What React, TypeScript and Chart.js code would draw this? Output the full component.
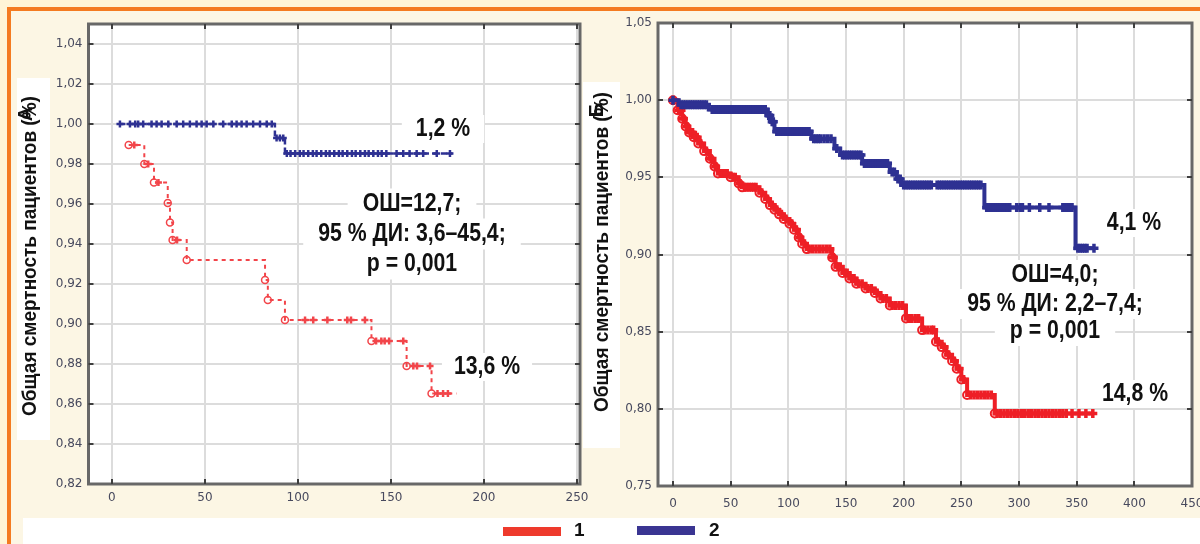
import React, { useEffect, useRef } from "react";
import { Chart, registerables } from "chart.js";

Chart.register(...registerables);

type Pt = [number, number];

// ---------------- DATA ----------------
const Y_TITLE = "Общая смертность пациентов (%)";
const LEFT_PANEL_LETTER = "А";
const RIGHT_PANEL_LETTER = "Б";
const LEGEND_LABELS = ["1", "2"];

const LEFT_X_TICKS = [0, 50, 100, 150, 200, 250];
const LEFT_Y_TICKS = [0.82, 0.84, 0.86, 0.88, 0.9, 0.92, 0.94, 0.96, 0.98, 1.0, 1.02, 1.04];
const RIGHT_X_TICKS = [0, 50, 100, 150, 200, 250, 300, 350, 400, 450];
const RIGHT_Y_TICKS = [0.75, 0.8, 0.85, 0.9, 0.95, 1.0, 1.05];

const LEFT_G1_LABEL = "13,6 %";
const LEFT_G2_LABEL = "1,2 %";
const LEFT_STATS = ["ОШ=12,7;", "95 % ДИ: 3,6–45,4;", "p = 0,001"];
const RIGHT_G1_LABEL = "14,8 %";
const RIGHT_G2_LABEL = "4,1 %";
const RIGHT_STATS = ["ОШ=4,0;", "95 % ДИ: 2,2–7,4;", "p = 0,001"];

// Panel A, group 1 (red): step points (time, survival)
const LEFT_G1_STEPS: Pt[] = [
  [9, 0.9895], [17.4, 0.98], [22.6, 0.9707], [30, 0.9605], [31.2, 0.9507], [32.6, 0.942],
  [40.2, 0.932], [82.3, 0.922], [83.8, 0.912], [93, 0.902], [139.5, 0.8915], [158.4, 0.879],
  [171.8, 0.8653], [185.3, 0.8653],
];
const LEFT_G1_CENSORED: Pt[] = [
  [12, 0.9895], [19.5, 0.98], [25, 0.9707], [35, 0.942], [103.8, 0.902], [108.2, 0.902],
  [115.8, 0.902], [126.5, 0.902], [128.5, 0.902], [136, 0.902], [142, 0.8915], [144.8, 0.8915],
  [146.6, 0.8915], [149, 0.8915], [156.6, 0.8915], [162, 0.879], [164, 0.879], [171, 0.879],
  [175, 0.8653], [178, 0.8653], [180.6, 0.8653],
];
// Panel A, group 2 (blue)
const LEFT_G2_STEPS: Pt[] = [[4, 1.0], [87.6, 0.993], [93, 0.9853], [183, 0.9853]];
const LEFT_G2_CENSORED: Pt[] = [
  [4.3, 1], [9.7, 1], [12.5, 1], [14.1, 1], [16.8, 1], [21.3, 1], [24, 1], [26.7, 1], [30.3, 1],
  [34.8, 1], [38.3, 1], [41.9, 1], [45.5, 1], [48.2, 1], [50.9, 1], [54.5, 1], [59.8, 1], [64.4, 1],
  [67, 1], [69.7, 1], [72.4, 1], [75.9, 1], [79.6, 1], [83.2, 1], [85.9, 1],
  [88.5, 0.993], [90.3, 0.993], [92.1, 0.993],
  [94, 0.9853], [96, 0.9853], [98.5, 0.9853], [101, 0.9853], [103, 0.9853], [105.5, 0.9853],
  [108, 0.9853], [110, 0.9853], [112.5, 0.9853], [115, 0.9853], [117, 0.9853], [119.5, 0.9853],
  [122, 0.9853], [124, 0.9853], [126.5, 0.9853], [129, 0.9853], [131, 0.9853], [133.5, 0.9853],
  [136, 0.9853], [138, 0.9853], [140.5, 0.9853], [143, 0.9853], [145, 0.9853], [147.5, 0.9853],
  [153, 0.9853], [156.6, 0.9853], [160, 0.9853], [163.8, 0.9853], [167.3, 0.9853], [174.6, 0.9853],
  [181.7, 0.9853],
];

// Panel Б, group 1 (red)
const RIGHT_G1_STEPS: Pt[] = [
  [0, 1.0], [4, 0.9935], [8, 0.988], [11, 0.983], [14, 0.979], [18, 0.976], [22, 0.972],
  [27, 0.967], [32, 0.962], [36, 0.957], [39, 0.9525], [50, 0.95], [57, 0.946], [60, 0.9435],
  [75, 0.94], [80, 0.936], [84, 0.932], [88, 0.929], [92, 0.926], [96, 0.923], [101, 0.92],
  [105, 0.916], [109, 0.911], [112, 0.907], [116, 0.9035], [138, 0.898], [141, 0.892],
  [147, 0.888], [153, 0.8845], [159, 0.881], [167, 0.878], [175, 0.875], [180, 0.8715],
  [188, 0.867], [202, 0.8586], [216, 0.851], [228, 0.8435], [233, 0.84], [237, 0.835],
  [242, 0.831], [246, 0.826], [250, 0.819], [255, 0.809], [279, 0.797], [365, 0.797],
];
const RIGHT_G1_CENSORED: Pt[] = [
  [0, 1.0], [5, 0.9935], [7, 0.9935], [9, 0.988], [12, 0.983], [15, 0.979], [17, 0.979],
  [19, 0.976], [21, 0.976], [24, 0.972], [29, 0.967], [33, 0.962], [37, 0.957],
  [41, 0.9525], [43, 0.9525], [45, 0.9525], [47, 0.9525], [52, 0.95], [54, 0.95], [58, 0.946],
  [62, 0.9435], [64, 0.9435], [66, 0.9435], [68, 0.9435], [70, 0.9435], [72, 0.9435],
  [77, 0.94], [82, 0.936], [86, 0.932], [90, 0.929], [94, 0.926], [98, 0.923], [103, 0.92],
  [107, 0.916], [110, 0.911], [114, 0.907],
  [118, 0.9035], [121, 0.9035], [124, 0.9035], [127, 0.9035], [130, 0.9035], [133, 0.9035], [136, 0.9035],
  [139, 0.898], [143, 0.892], [145, 0.892], [149, 0.888], [151, 0.888], [155, 0.8845], [157, 0.8845],
  [161, 0.881], [164, 0.881], [169, 0.878], [172, 0.878], [177, 0.875], [182, 0.8715], [185, 0.8715],
  [190, 0.867], [193, 0.867], [196, 0.867], [199, 0.867],
  [204, 0.8586], [207, 0.8586], [210, 0.8586], [213, 0.8586],
  [218, 0.851], [221, 0.851], [224, 0.851], [226, 0.851],
  [230, 0.8435], [235, 0.84], [239, 0.835], [244, 0.831], [248, 0.826], [252, 0.819],
  [258, 0.809], [261, 0.809], [264, 0.809], [267, 0.809], [270, 0.809], [273, 0.809], [276, 0.809],
  [281, 0.797], [284, 0.797], [287, 0.797], [290, 0.797], [293, 0.797], [296, 0.797], [299, 0.797],
  [302, 0.797], [305, 0.797], [308, 0.797], [311, 0.797], [314, 0.797], [317, 0.797], [320, 0.797],
  [323, 0.797], [326, 0.797], [329, 0.797], [332, 0.797], [335, 0.797], [338, 0.797], [341, 0.797],
  [346, 0.797], [352, 0.797], [358, 0.797], [364, 0.797],
];
// Panel Б, group 2 (blue)
const RIGHT_G2_STEPS: Pt[] = [
  [0, 1.0], [5, 0.997], [31, 0.994], [82, 0.99], [85, 0.986], [88, 0.9797], [120, 0.975],
  [140, 0.9687], [145, 0.9644], [164, 0.959], [188, 0.9535], [194, 0.949], [198, 0.945],
  [270, 0.9305], [349, 0.904], [365, 0.904],
];
const RIGHT_G2_CENSORED: Pt[] = [
  [0, 1.0], [7, 0.997], [9, 0.997], [11, 0.997], [13, 0.997], [15, 0.997], [17, 0.997], [19, 0.997],
  [21, 0.997], [23, 0.997], [25, 0.997], [27, 0.997], [29, 0.997],
  [34, 0.994], [36, 0.994], [38, 0.994], [40, 0.994], [42, 0.994], [44, 0.994], [46, 0.994], [48, 0.994],
  [50, 0.994], [52, 0.994], [54, 0.994], [56, 0.994], [58, 0.994], [60, 0.994], [62, 0.994], [64, 0.994],
  [66, 0.994], [68, 0.994], [70, 0.994], [72, 0.994], [74, 0.994], [76, 0.994], [78, 0.994], [80, 0.994],
  [83, 0.99], [84, 0.99], [86, 0.986], [87, 0.986],
  [90, 0.9797], [92, 0.9797], [94, 0.9797], [96, 0.9797], [98, 0.9797], [100, 0.9797], [102, 0.9797],
  [104, 0.9797], [106, 0.9797], [108, 0.9797], [110, 0.9797], [112, 0.9797], [114, 0.9797], [116, 0.9797], [118, 0.9797],
  [122, 0.975], [124, 0.975], [126, 0.975], [128, 0.975], [131, 0.975], [134, 0.975], [137, 0.975],
  [142, 0.9687],
  [147, 0.9644], [149, 0.9644], [151, 0.9644], [153, 0.9644], [155, 0.9644], [157, 0.9644], [159, 0.9644], [161, 0.9644], [163, 0.9644],
  [166, 0.959], [168, 0.959], [170, 0.959], [172, 0.959], [174, 0.959], [176, 0.959], [178, 0.959], [180, 0.959], [182, 0.959], [184, 0.959], [186, 0.959],
  [190, 0.9535], [192, 0.9535], [195, 0.949], [197, 0.949],
  [200, 0.945], [202, 0.945], [204, 0.945], [206, 0.945], [208, 0.945], [210, 0.945], [212, 0.945], [214, 0.945],
  [216, 0.945], [218, 0.945], [220, 0.945], [222, 0.945], [224, 0.945], [229, 0.945], [231, 0.945], [233, 0.945],
  [235, 0.945], [237, 0.945], [239, 0.945], [241, 0.945], [243, 0.945], [245, 0.945], [247, 0.945], [249, 0.945],
  [251, 0.945], [253, 0.945], [255, 0.945], [257, 0.945], [259, 0.945], [261, 0.945], [263, 0.945], [265, 0.945], [267, 0.945],
  [272, 0.9305], [274, 0.9305], [276, 0.9305], [278, 0.9305], [280, 0.9305], [282, 0.9305], [284, 0.9305],
  [286, 0.9305], [288, 0.9305], [290, 0.9305], [292, 0.9305], [298, 0.9305], [301, 0.9305], [303, 0.9305],
  [309, 0.9305], [318, 0.9305], [326, 0.9305], [338, 0.9305], [340, 0.9305], [342, 0.9305], [344, 0.9305], [346, 0.9305],
  [351, 0.904], [353, 0.904], [355, 0.904], [357, 0.904], [359, 0.904], [365, 0.904],
];

// ---------------- STYLE ----------------
const RED = "#ee1f26";
const RED_LIGHT = "#f2454a";
const BLUE = "#2e3192";
const GRID = "#dcdcdc";
const FRAME = "#686868";
const TICK_TXT = "#484a5e";
const TXT = "#111111";
const BOLD_FONT = '"Liberation Sans", Arial, sans-serif';
const TICK_FONT = '"DejaVu Sans", Verdana, sans-serif';

const pts = (a: Pt[]) => a.map(([x, y]) => ({ x, y }));
const fmtY = (v: number) => Number(v).toFixed(2).replace(".", ",");

function drawText(ctx: any, text: string, x: number, y: number, size: number, cond: number, rotate = false) {
  ctx.save();
  ctx.translate(x, y);
  if (rotate) ctx.rotate(-Math.PI / 2);
  ctx.scale(cond, 1);
  ctx.font = `bold ${size}px ${BOLD_FONT}`;
  ctx.fillStyle = TXT;
  ctx.textAlign = "center";
  ctx.textBaseline = "middle";
  ctx.fillText(text, 0, 0);
  ctx.restore();
}

function panelPlugin(p: any) {
  return {
    id: "panelDeco",
    beforeDraw(chart: any) {
      const { ctx, chartArea: a } = chart;
      ctx.save();
      ctx.fillStyle = "#ffffff";
      ctx.fillRect(a.left, a.top, a.right - a.left, a.bottom - a.top);
      ctx.restore();
    },
    beforeDatasetsDraw(chart: any) {
      const ctx = chart.ctx;
      for (const n of p.notes) {
        ctx.save();
        ctx.font = `bold ${n.size}px ${BOLD_FONT}`;
        const w = ctx.measureText(n.text).width * n.cond;
        ctx.fillStyle = "#ffffff";
        ctx.fillRect(n.x - w / 2 - n.padX, n.y - n.h / 2, w + 2 * n.padX, n.h);
        ctx.restore();
      }
    },
    afterDraw(chart: any) {
      const { ctx, chartArea: a, scales } = chart;
      ctx.save();
      ctx.strokeStyle = FRAME;
      ctx.lineWidth = 3;
      ctx.strokeRect(a.left, a.top, a.right - a.left, a.bottom - a.top);
      ctx.strokeStyle = "#3e3e3e";
      ctx.lineWidth = 2;
      ctx.beginPath();
      for (const v of p.xTicks) {
        const x = Math.round(scales.x.getPixelForValue(v));
        if (x < a.left + 2 || x > a.right - 2) continue;
        ctx.moveTo(x, a.bottom); ctx.lineTo(x, a.bottom - 5);
        ctx.moveTo(x, a.top); ctx.lineTo(x, a.top + 5);
      }
      for (const v of p.yTicks) {
        const y = Math.round(scales.y.getPixelForValue(v));
        if (y < a.top + 2 || y > a.bottom - 2) continue;
        ctx.moveTo(a.left, y); ctx.lineTo(a.left + 5, y);
        ctx.moveTo(a.right, y); ctx.lineTo(a.right - 5, y);
      }
      ctx.stroke();
      ctx.restore();
      for (const n of p.notes) drawText(ctx, n.text, n.x, n.y, n.size, n.cond);
      drawText(ctx, Y_TITLE, p.title.x, p.title.y, 20, 0.95, true);
      drawText(ctx, p.letter.text, p.letter.x, p.letter.y, 20, 1, true);
    },
  };
}

function buildConfig(p: any) {
  return {
    type: "line",
    data: { datasets: p.datasets },
    options: {
      animation: false,
      responsive: false,
      devicePixelRatio: 1,
      layout: { padding: p.padding },
      plugins: { legend: { display: false }, tooltip: { enabled: false } },
      elements: { line: { tension: 0 } },
      scales: {
        x: {
          type: "linear",
          min: p.xMin,
          max: p.xMax,
          afterBuildTicks: (s: any) => { s.ticks = p.xTicks.map((v: number) => ({ value: v })); },
          afterFit: (s: any) => {
            s.height = p.xAxisHeight;
            s.paddingLeft = 0; s.paddingRight = 0; s.paddingTop = 0; s.paddingBottom = 0;
          },
          grid: { color: GRID, lineWidth: 2, drawTicks: false },
          border: { display: false },
          ticks: {
            padding: p.xTickPad, color: TICK_TXT, autoSkip: false, maxRotation: 0,
            font: { family: TICK_FONT, size: 12 },
            callback: (v: any) => String(v),
          },
        },
        y: {
          type: "linear",
          min: p.yMin,
          max: p.yMax,
          afterBuildTicks: (s: any) => { s.ticks = p.yTicks.map((v: number) => ({ value: v })); },
          afterFit: (s: any) => {
            s.width = p.yAxisWidth;
            s.paddingLeft = 0; s.paddingRight = 0; s.paddingTop = 0; s.paddingBottom = 0;
          },
          grid: { color: GRID, lineWidth: 2, drawTicks: false },
          border: { display: false },
          ticks: {
            padding: 6, color: TICK_TXT, autoSkip: false,
            font: { family: TICK_FONT, size: 12 },
            callback: (v: any) => fmtY(v),
          },
        },
      },
    },
    plugins: [panelPlugin(p)],
  };
}

const noteSize = 25;
const noteCond = 0.85;

const LEFT_CFG = {
  xMin: -12.6, xMax: 251.6, yMin: 0.82, yMax: 1.05,
  xTicks: LEFT_X_TICKS, yTicks: LEFT_Y_TICKS,
  yAxisWidth: 88.5, xAxisHeight: 30, xTickPad: 7,
  padding: { left: 0, right: 20, top: 24, bottom: 30 },
  title: { x: 30, y: 256 },
  letter: { text: LEFT_PANEL_LETTER, x: 26, y: 114 },
  notes: [
    { text: LEFT_G2_LABEL, x: 443, y: 129, size: noteSize, cond: noteCond, padX: 14, h: 28 },
    { text: LEFT_STATS[0], x: 412, y: 204, size: noteSize, cond: noteCond, padX: 15, h: 31 },
    { text: LEFT_STATS[1], x: 412, y: 234, size: noteSize, cond: noteCond, padX: 15, h: 31 },
    { text: LEFT_STATS[2], x: 412, y: 264, size: noteSize, cond: noteCond, padX: 15, h: 31 },
    { text: LEFT_G1_LABEL, x: 487, y: 367, size: noteSize, cond: noteCond, padX: 12, h: 28 },
  ],
  datasets: [
    {
      data: pts(LEFT_G2_STEPS), stepped: true, borderColor: BLUE, borderWidth: 2.5,
      borderDash: [6, 3], pointRadius: 0, fill: false,
    },
    {
      data: pts(LEFT_G2_CENSORED), showLine: false, pointStyle: "cross", pointRadius: 3.5,
      pointBorderWidth: 2.5, pointBorderColor: BLUE, borderColor: BLUE,
    },
    {
      data: pts(LEFT_G1_STEPS), stepped: true, borderColor: RED_LIGHT, borderWidth: 2,
      borderDash: [4, 4], fill: false, pointStyle: "circle",
      pointRadius: (c: any) => (c.dataIndex === LEFT_G1_STEPS.length - 1 ? 0 : 3.5),
      pointBorderWidth: 1.5, pointBorderColor: RED_LIGHT, pointBackgroundColor: "rgba(255,255,255,0)",
    },
    {
      data: pts(LEFT_G1_CENSORED), showLine: false, pointStyle: "cross", pointRadius: 3.5,
      pointBorderWidth: 2.5, pointBorderColor: RED_LIGHT, borderColor: RED_LIGHT,
    },
  ],
};

const RIGHT_CFG = {
  xMin: -13, xMax: 450, yMin: 0.75, yMax: 1.05,
  xTicks: RIGHT_X_TICKS, yTicks: RIGHT_Y_TICKS,
  yAxisWidth: 78, xAxisHeight: 30, xTickPad: 11,
  padding: { left: 0, right: 7, top: 23, bottom: 28 },
  title: { x: 22, y: 252 },
  letter: { text: RIGHT_PANEL_LETTER, x: 17, y: 110 },
  notes: [
    { text: RIGHT_G2_LABEL, x: 554, y: 223, size: noteSize, cond: noteCond, padX: 12, h: 28 },
    { text: RIGHT_STATS[0], x: 475, y: 275, size: noteSize, cond: noteCond, padX: 15, h: 30 },
    { text: RIGHT_STATS[1], x: 475, y: 304, size: noteSize, cond: noteCond, padX: 15, h: 30 },
    { text: RIGHT_STATS[2], x: 475, y: 331, size: noteSize, cond: noteCond, padX: 15, h: 30 },
    { text: RIGHT_G1_LABEL, x: 555, y: 394, size: noteSize, cond: noteCond, padX: 12, h: 28 },
  ],
  datasets: [
    {
      data: pts(RIGHT_G2_STEPS), stepped: true, borderColor: BLUE, borderWidth: 4,
      pointRadius: 0, fill: false,
    },
    {
      data: pts(RIGHT_G2_CENSORED), showLine: false, pointStyle: "cross", pointRadius: 4.5,
      pointBorderWidth: 3.5, pointBorderColor: BLUE, borderColor: BLUE,
    },
    {
      data: pts(RIGHT_G1_STEPS), stepped: true, borderColor: RED, borderWidth: 4, fill: false,
      pointStyle: "circle",
      pointRadius: (c: any) => (c.dataIndex === RIGHT_G1_STEPS.length - 1 ? 0 : 4),
      pointBorderWidth: 2, pointBorderColor: RED, pointBackgroundColor: "rgba(255,255,255,0)",
    },
    {
      data: pts(RIGHT_G1_CENSORED), showLine: false, pointStyle: "cross", pointRadius: 4.5,
      pointBorderWidth: 3.5, pointBorderColor: RED, borderColor: RED,
    },
  ],
};

const abs = (l: number, t: number, w: number, h: number, bg: string): React.CSSProperties => ({
  position: "absolute", left: l, top: t, width: w, height: h, background: bg,
});

export default function App() {
  const leftRef = useRef<HTMLCanvasElement>(null);
  const rightRef = useRef<HTMLCanvasElement>(null);

  useEffect(() => {
    const c1 = new Chart(leftRef.current as any, buildConfig(LEFT_CFG) as any);
    const c2 = new Chart(rightRef.current as any, buildConfig(RIGHT_CFG) as any);
    return () => {
      c1.destroy();
      c2.destroy();
    };
  }, []);

  const legendText: React.CSSProperties = {
    position: "absolute", top: 519, fontFamily: BOLD_FONT, fontWeight: "bold",
    fontSize: 19, lineHeight: "22px", color: TXT,
  };

  return (
    <div style={{ position: "fixed", left: 0, top: 0, width: 1200, height: 544, overflow: "hidden", background: "#fff5d6" }}>
      <div style={abs(11, 11, 1189, 533, "#fcf6e4")} />
      <div style={abs(17, 78, 33, 362, "#ffffff")} />
      <div style={abs(583, 82, 37, 366, "#ffffff")} />
      <div style={abs(23, 518, 1177, 26, "#ffffff")} />
      <div style={abs(7, 7, 1193, 4, "#f47b20")} />
      <div style={abs(7, 7, 4, 537, "#f47b20")} />
      <canvas ref={leftRef} width={600} height={544} style={{ position: "absolute", left: 0, top: 0 }} />
      <canvas ref={rightRef} width={620} height={544} style={{ position: "absolute", left: 580, top: 0 }} />
      <div style={abs(503, 527, 58, 9, "#ee3a2c")} />
      <div style={{ ...legendText, left: 574 }}>{LEGEND_LABELS[0]}</div>
      <div style={abs(637, 526, 58, 9, "#3a3592")} />
      <div style={{ ...legendText, left: 709 }}>{LEGEND_LABELS[1]}</div>
    </div>
  );
}
